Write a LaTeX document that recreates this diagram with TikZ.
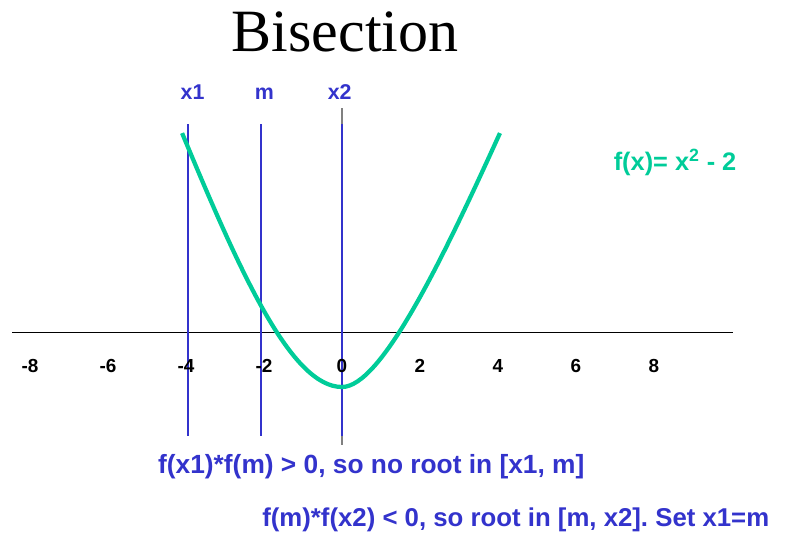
\documentclass[tikz,border=0pt]{standalone}
\usepackage{fontspec}
\setmainfont{Liberation Serif}
\setsansfont{Liberation Sans}
\definecolor{bisblue}{RGB}{51,51,204}
\definecolor{curvegreen}{RGB}{0,204,153}
\frenchspacing
\begin{document}
\begin{tikzpicture}[font=\sffamily\bfseries,
  marker/.style={draw=bisblue, line width=1.5pt},
  marklabel/.style={text=bisblue, font=\fontsize{15.6}{18}\selectfont\sffamily\bfseries, anchor=base, inner sep=0pt},
  ticklabel/.style={font=\fontsize{13.8}{16}\selectfont\sffamily\bfseries, anchor=base, inner sep=0pt},
  note/.style={text=bisblue, font=\fontsize{19.2}{22}\selectfont\sffamily\bfseries, anchor=base west, inner sep=0pt},
  ]
  \useasboundingbox (-8.769,-5.154) rectangle (11.436,8.513);

  %%% title %%%
  \node[font=\fontsize{43.8}{50}\selectfont\rmfamily\mdseries, anchor=base, inner sep=0pt] (title) at (0.08,7.19) {Bisection};

  %%% axes %%%
  \draw[gray, line width=1.2pt] (0,5.74) -- (0,-2.89);
  \draw[black, line width=0.7pt] (-8.46,0) -- (10.03,0);

  %%% bracket lines x1, m, x2 %%%
  \foreach \mx in {-3.94,-2.07,0}
    \draw[marker] (\mx,5.33) -- (\mx,-2.67);
  \node[marklabel] (lblxone) at (-3.83,5.95) {x1};
  \node[marklabel] (lblmid)  at (-1.99,5.95) {m};
  \node[marklabel] (lblxtwo) at (-0.06,5.95) {x2};

  %%% f(x) = x^2 - 2 %%%
  \draw[curvegreen, line width=3.1pt] (-4.10,5.10)
    .. controls (-2.6,1.5) and (-1.3,-1.41) .. (0,-1.41)
    .. controls (1.0,-1.41) and (2.55,1.8) .. (4.05,5.10);
  \node[font=\fontsize{18.5}{22}\selectfont\sffamily\bfseries, text=curvegreen, anchor=base, inner sep=0pt] (fxlabel) at (8.54,4.14) {f(x)= x\textsuperscript{2} - 2};

  %%% tick numbers %%%
  \foreach \n [count=\i] in {-8,-6,...,8}
    \node[ticklabel] (tick\i) at (\n,-1.03) {\n};

  %%% notes %%%
  \node[note] (noteone) at (-4.72,-3.64) {f(x1)*f(m) > 0, so no root in [x1, m]};
  \node[note, font=\fontsize{18.8}{22}\selectfont\sffamily\bfseries] (notetwo) at (-2.05,-4.99) {f(m)*f(x2) < 0, so root in [m, x2]. Set x1=m};
\end{tikzpicture}
\end{document}
